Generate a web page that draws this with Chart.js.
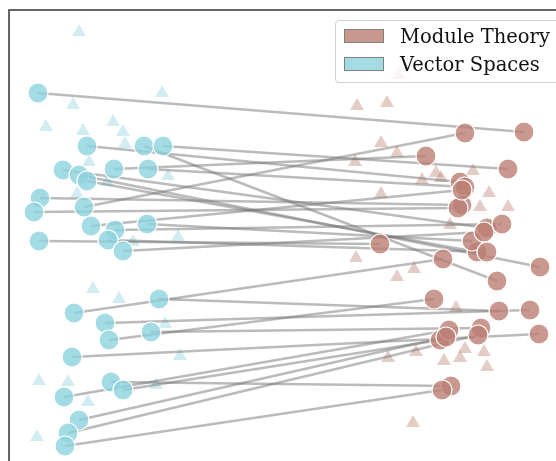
<!DOCTYPE html>
<html>
<head>
<meta charset="utf-8">
<script src="https://cdn.jsdelivr.net/npm/chart.js@4.4.1/dist/chart.umd.min.js"></script>
<style>
  html, body { margin: 0; padding: 0; background: #fff; overflow: hidden; width: 556px; height: 461px; }
  #wrap { position: relative; width: 556px; height: 461px; overflow: hidden; }
  canvas { position: absolute; left: 0; top: 0; }
  #legend {
    position: absolute; left: 335px; top: 20px; width: 230px; height: 61px;
    border: 1px solid #d0d0d0; border-radius: 4px; background: rgba(255,255,255,0.8);
    font-family: "DejaVu Serif", serif; font-size: 19.5px; color: #111;
  }
  .item { position: absolute; left: 8px; height: 22px; display: flex; align-items: center; }
  .sw { width: 38px; height: 12px; border: 1px solid #808080; margin-right: 16px; }
</style>
</head>
<body>
<div id="wrap">
  <canvas id="myChart" width="570" height="480"></canvas>
  <div id="legend">
    <div class="item" style="top:4px"><span class="sw" style="background:rgba(188,128,116,0.8)"></span>Module Theory</div>
    <div class="item" style="top:32px"><span class="sw" style="background:rgba(141,211,222,0.8)"></span>Vector Spaces</div>
  </div>
</div>
<script>
// circles: Vector Spaces terms and their Module Theory counterparts (same index = pair)
const vectorX = [2.9, 7.8, 13.5, 15.4, 5.4, 7.0, 7.8, 10.5, 13.9, 3.1, 7.5, 2.5, 8.2, 13.8, 10.6, 9.9, 11.4, 3.0,
                 15.0, 6.5, 9.6, 14.2, 10.0, 6.3, 10.2, 11.4, 5.5, 7.0, 5.9, 5.6];
const vectorY = [38.7, 33.4, 33.4, 33.4, 31.0, 30.5, 29.9, 31.1, 31.1, 28.2, 27.3, 26.8, 25.4, 25.6, 25.0, 24.0, 22.9, 23.9,
                 18.1, 16.7, 15.7, 14.8, 14.0, 12.3, 9.8, 9.0, 8.3, 6.0, 4.7, 3.4];
const moduleX = [51.5, 45.1, 48.8, 49.9, 47.8, 53.1, 46.8, 41.7, 45.6, 45.3, 45.6, 44.9, 45.3, 46.3, 49.3, 47.8, 47.5, 37.1,
                 49.0, 43.4, 52.1, 47.2, 42.5, 53.0, 44.2, 43.1, 44.0, 43.7, 46.9, 43.3];
const moduleY = [34.8, 29.8, 19.9, 31.1, 25.2, 21.3, 22.8, 32.4, 29.3, 27.5, 34.7, 27.2, 29.0, 23.9, 25.6, 22.8, 24.8, 23.6,
                 16.9, 22.1, 17.0, 15.2, 18.1, 14.6, 9.4, 14.0, 15.0, 14.3, 14.5, 9.0];

// triangles: background terms of each field
const vectorBgX = [7.0, 15.3, 6.4, 3.7, 7.4, 10.4, 11.4, 11.6, 8.0, 15.9, 9.8, 6.8, 16.9, 12.4, 8.4, 11.0, 15.6, 17.1, 3.0, 5.9, 7.9, 14.7, 2.8];
const vectorBgY = [44.8, 38.7, 37.5, 35.3, 34.9, 35.8, 34.8, 33.6, 31.8, 30.4, 29.8, 28.6, 24.3, 23.8, 19.1, 18.1, 15.6, 12.4, 9.9, 9.8, 7.8, 9.5, 4.3];
const moduleBgX = [39.0, 34.8, 37.8, 37.2, 34.6, 38.8, 46.4, 41.3, 42.7, 43.2, 48.0, 37.2, 47.1, 49.9, 44.1, 34.7, 38.8, 40.5,
                   44.7, 37.9, 40.7, 43.5, 45.1, 45.6, 47.5, 47.8, 40.4];
const moduleBgY = [40.5, 37.4, 37.7, 33.7, 31.8, 32.7, 30.9, 30.0, 30.7, 30.2, 28.7, 28.6, 27.3, 27.3, 25.5, 22.2, 20.3, 21.1,
                   17.2, 12.2, 12.8, 11.9, 12.2, 13.1, 12.8, 11.3, 5.7];

const BLUE = 'rgba(141, 211, 222, 0.8)';
const BROWN = 'rgba(188, 128, 116, 0.8)';
const BLUE_BG = 'rgba(141, 211, 222, 0.4)';
const BROWN_BG = 'rgba(188, 128, 116, 0.4)';

const pts = (xs, ys) => xs.map((x, i) => ({ x: x, y: ys[i] }));

const datasets = [];

// circles on top
datasets.push({
  label: 'Module Theory', data: pts(moduleX, moduleY), order: 0,
  backgroundColor: BROWN, borderColor: '#ffffff', borderWidth: 1.2, pointRadius: 10, pointStyle: 'circle'
});
datasets.push({
  label: 'Vector Spaces', data: pts(vectorX, vectorY), order: 0,
  backgroundColor: BLUE, borderColor: '#ffffff', borderWidth: 1.2, pointRadius: 10, pointStyle: 'circle'
});

// connecting lines
vectorX.forEach((x, i) => {
  datasets.push({
    label: 'pair' + i, order: 1,
    data: [{ x: x, y: vectorY[i] }, { x: moduleX[i], y: moduleY[i] }],
    showLine: true, borderColor: 'rgba(120, 120, 120, 0.5)', borderWidth: 2.5, pointRadius: 0
  });
});

// triangles
datasets.push({
  label: 'module bg', data: pts(moduleBgX, moduleBgY), order: 2,
  backgroundColor: BROWN_BG, borderWidth: 0, pointRadius: 8, pointStyle: 'triangle'
});
datasets.push({
  label: 'vector bg', data: pts(vectorBgX, vectorBgY), order: 2,
  backgroundColor: BLUE_BG, borderWidth: 0, pointRadius: 8, pointStyle: 'triangle'
});

const frame = {
  id: 'frame',
  afterDraw(chart) {
    const { ctx, chartArea: a } = chart;
    ctx.save();
    ctx.strokeStyle = '#404040';
    ctx.lineWidth = 1.6;
    ctx.strokeRect(a.left, a.top, a.right - a.left, a.bottom - a.top);
    ctx.restore();
  }
};

new Chart(document.getElementById('myChart'), {
  type: 'scatter',
  data: { datasets: datasets },
  plugins: [frame],
  options: {
    responsive: false,
    animation: false,
    devicePixelRatio: 1,
    layout: { autoPadding: false, padding: { left: 9, top: 10, right: 0, bottom: 0 } },
    plugins: { legend: { display: false }, tooltip: { enabled: false } },
    scales: {
      x: { type: 'linear', min: 0, max: 56.1, display: false },
      y: { type: 'linear', min: 0, max: 47, display: false }
    }
  }
});
</script>
</body>
</html>
